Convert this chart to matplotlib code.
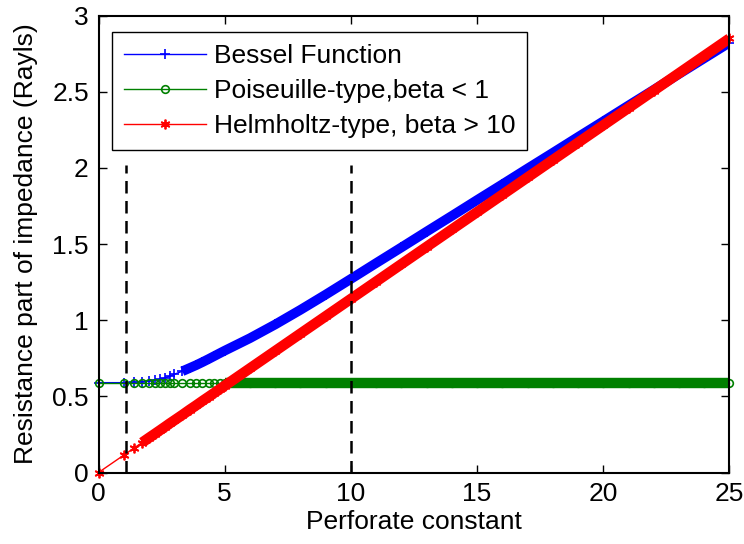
import numpy as np
import matplotlib
matplotlib.use("Agg")
import matplotlib.pyplot as plt
from matplotlib.ticker import FuncFormatter

plt.rcParams["font.family"] = ["Liberation Sans", "DejaVu Sans"]

# perforate constant samples (dense band drawn from these)
perforate = [0, 1, 1.41, 1.73, 2, 2.24, 2.45, 2.65, 2.83, 3, 3.32, 3.61, 3.87,
             4.12, 4.36, 4.58, 4.8, 5, 6, 7, 8, 9, 10, 11, 12, 13, 14, 15, 16,
             17, 18, 19, 20, 21, 22, 23, 24, 25]

bessel = [0.59, 0.59, 0.592, 0.596, 0.602, 0.607, 0.613, 0.622, 0.633, 0.645,
          0.665, 0.686, 0.705, 0.725, 0.745, 0.764, 0.783, 0.80, 0.882, 0.972,
          1.068, 1.168, 1.271, 1.375, 1.478, 1.582, 1.685, 1.789, 1.892, 1.996,
          2.099, 2.203, 2.306, 2.41, 2.513, 2.617, 2.72, 2.823]

poiseuille_level = 0.59

helmholtz = [0, 0.114, 0.161, 0.197, 0.228, 0.255, 0.279, 0.302, 0.323, 0.342,
             0.378, 0.412, 0.441, 0.47, 0.497, 0.522, 0.547, 0.57, 0.684, 0.798,
             0.912, 1.026, 1.14, 1.254, 1.368, 1.482, 1.596, 1.71, 1.824, 1.938,
             2.052, 2.166, 2.28, 2.394, 2.508, 2.622, 2.736, 2.85]

marks = [1.1, 10]
mark_top = 2.02

x = np.array(perforate)
yb = np.array(bessel)
yp = np.full_like(x, poiseuille_level)
yh = np.array(helmholtz)

fig = plt.figure(figsize=(7.44, 5.44), dpi=100)
ax = fig.add_axes([0.1324, 0.1314, 0.8481, 0.8399])

# blue: Bessel
ax.plot(x[10:], yb[10:], color="b", lw=7, solid_capstyle="butt", zorder=2)
hb, = ax.plot(x, yb, color="b", lw=1, marker="+", ms=7, mew=1.2,
              label="Bessel Function", zorder=2, clip_on=False)
# green: Poiseuille
ax.plot(x[17:], yp[17:], color="g", lw=7.5, solid_capstyle="butt", zorder=3)
hp, = ax.plot(x, yp, color="g", lw=1, marker="o", ms=5.5, mfc="none", mew=1.2,
              label="Poiseuille-type,beta < 1", zorder=3, clip_on=False)
# red: Helmholtz
ax.plot(x[3:], yh[3:], color="r", lw=7.5, solid_capstyle="butt", zorder=4)
hh, = ax.plot(x, yh, color="r", lw=1, marker=(6, 2, 0), ms=7, mew=1.3,
              label="Helmholtz-type, beta > 10", zorder=4, clip_on=False)

for m in marks:
    ax.plot([m, m], [0, mark_top], color="k", lw=1.8, dashes=(5, 3), zorder=5)

ax.set_xlim(0, 25)
ax.set_ylim(0, 3)
ax.set_xticks([0, 5, 10, 15, 20, 25])
ax.set_yticks([0, 0.5, 1, 1.5, 2, 2.5, 3])
fmt = FuncFormatter(lambda v, p: "%g" % v)
ax.xaxis.set_major_formatter(fmt)
ax.yaxis.set_major_formatter(fmt)
ax.tick_params(direction="in", top=True, right=True, length=6, width=1,
               labelsize=19, pad=7)
for s in ax.spines.values():
    s.set_linewidth(1.5)
    s.set_zorder(6)

ax.set_xlabel("Perforate constant", size=19, labelpad=3)
ax.set_ylabel("Resistance part of impedance (Rayls)", size=19, labelpad=10)

leg = ax.legend(handles=[hb, hp, hh], loc="upper left",
                bbox_to_anchor=(112 / 744, 1 - 32 / 544),
                bbox_transform=fig.transFigure, borderaxespad=0,
                fontsize=19, fancybox=False, framealpha=1, edgecolor="k",
                handlelength=3.1, handletextpad=0.3, borderpad=0.45,
                labelspacing=0.42, numpoints=1)
leg.get_frame().set_linewidth(1)
leg.set_zorder(10)

fig.savefig("out.png", dpi=100)
